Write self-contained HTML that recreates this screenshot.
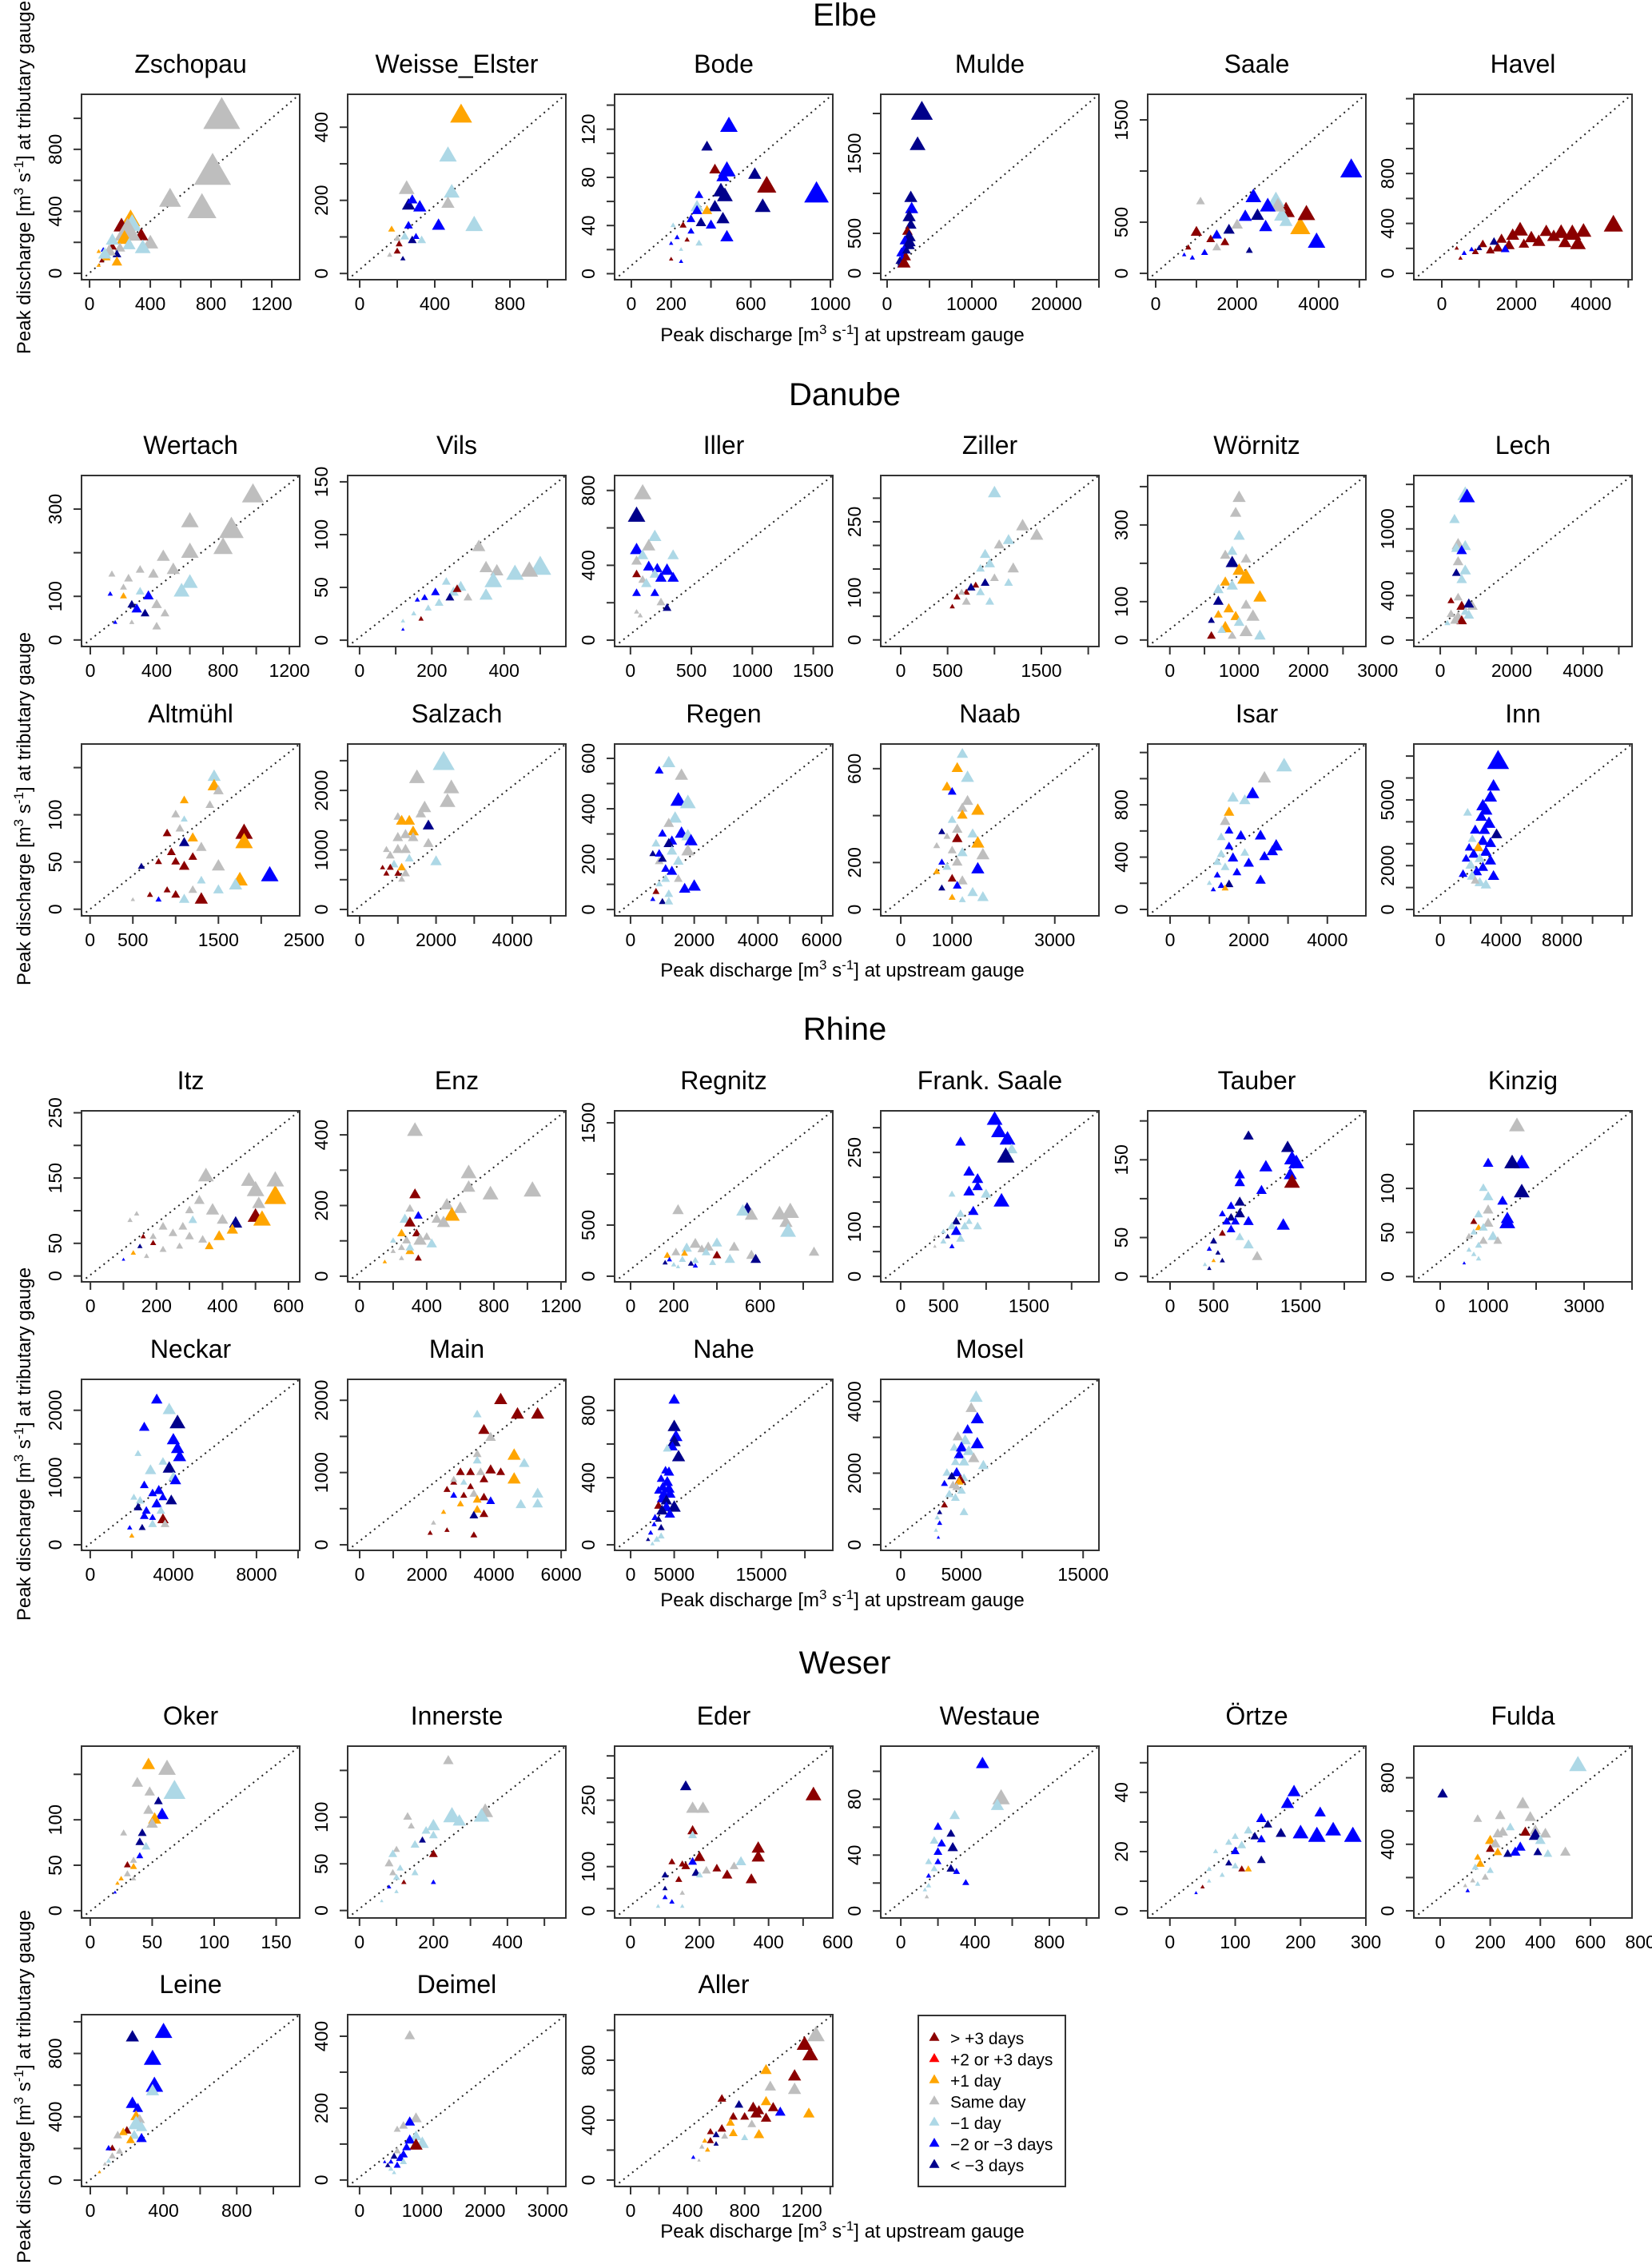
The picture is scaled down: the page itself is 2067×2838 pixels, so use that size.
<!DOCTYPE html>
<html><head><meta charset="utf-8"><title>Peak discharge tributary vs upstream</title>
<style>
html,body{margin:0;padding:0;background:#fff;}
svg{display:block;font-family:"Liberation Sans",Arial,sans-serif;}
</style></head>
<body>
<svg id="fig" xmlns="http://www.w3.org/2000/svg" width="2067" height="2838" viewBox="0 0 2067 2838">
<rect width="2067" height="2838" fill="#fff"/>
<text x="1057" y="32" font-size="40" text-anchor="middle">Elbe</text>
<text x="1057" y="507" font-size="40" text-anchor="middle">Danube</text>
<text x="1057" y="1301" font-size="40" text-anchor="middle">Rhine</text>
<text x="1057" y="2094" font-size="40" text-anchor="middle">Weser</text>
<g><text x="1054" y="427" font-size="24" text-anchor="middle">Peak discharge [m<tspan dy="-9" font-size="17">3</tspan><tspan dy="9"> s</tspan><tspan dy="-9" font-size="17">-1</tspan><tspan dy="9">] at upstream gauge</tspan></text></g>
<g><text x="1054" y="1222" font-size="24" text-anchor="middle">Peak discharge [m<tspan dy="-9" font-size="17">3</tspan><tspan dy="9"> s</tspan><tspan dy="-9" font-size="17">-1</tspan><tspan dy="9">] at upstream gauge</tspan></text></g>
<g><text x="1054" y="2010" font-size="24" text-anchor="middle">Peak discharge [m<tspan dy="-9" font-size="17">3</tspan><tspan dy="9"> s</tspan><tspan dy="-9" font-size="17">-1</tspan><tspan dy="9">] at upstream gauge</tspan></text></g>
<g><text x="1054" y="2800" font-size="24" text-anchor="middle">Peak discharge [m<tspan dy="-9" font-size="17">3</tspan><tspan dy="9"> s</tspan><tspan dy="-9" font-size="17">-1</tspan><tspan dy="9">] at upstream gauge</tspan></text></g>
<g transform="translate(38,222) rotate(-90)"><text x="0" y="0" font-size="24" text-anchor="middle">Peak discharge [m<tspan dy="-9" font-size="17">3</tspan><tspan dy="9"> s</tspan><tspan dy="-9" font-size="17">-1</tspan><tspan dy="9">] at tributary gauge</tspan></text></g>
<g transform="translate(38,1012) rotate(-90)"><text x="0" y="0" font-size="24" text-anchor="middle">Peak discharge [m<tspan dy="-9" font-size="17">3</tspan><tspan dy="9"> s</tspan><tspan dy="-9" font-size="17">-1</tspan><tspan dy="9">] at tributary gauge</tspan></text></g>
<g transform="translate(38,1807) rotate(-90)"><text x="0" y="0" font-size="24" text-anchor="middle">Peak discharge [m<tspan dy="-9" font-size="17">3</tspan><tspan dy="9"> s</tspan><tspan dy="-9" font-size="17">-1</tspan><tspan dy="9">] at tributary gauge</tspan></text></g>
<g transform="translate(38,2611) rotate(-90)"><text x="0" y="0" font-size="24" text-anchor="middle">Peak discharge [m<tspan dy="-9" font-size="17">3</tspan><tspan dy="9"> s</tspan><tspan dy="-9" font-size="17">-1</tspan><tspan dy="9">] at tributary gauge</tspan></text></g>
<g id="panels"></g>
<g id="legend"></g>
</svg>
<script>
const NS="http://www.w3.org/2000/svg";
const catColors=["#8B0000","#FF0000","#FFA500","#BEBEBE","#ADD8E6","#0000FF","#00008B"];
const catLabels=["> +3 days","+2 or +3 days","+1 day","Same day","\u22121 day","\u22122 or \u22123 days","< \u22123 days"];
const panelNames=["Zschopau","Weisse_Elster","Bode","Mulde","Saale","Havel","Wertach","Vils","Iller","Ziller","Wörnitz","Lech","Altmühl","Salzach","Regen","Naab","Isar","Inn","Itz","Enz","Regnitz","Frank. Saale","Tauber","Kinzig","Neckar","Main","Nahe","Mosel","Oker","Innerste","Eder","Westaue","Örtze","Fulda","Leine","Deimel","Aller"];
const panelRow=[0,0,0,0,0,0,1,1,1,1,1,1,2,2,2,2,2,2,3,3,3,3,3,3,4,4,4,4,5,5,5,5,5,5,6,6,6];
const panelCol=[0,1,2,3,4,5,0,1,2,3,4,5,0,1,2,3,4,5,0,1,2,3,4,5,0,1,2,3,0,1,2,3,4,5,0,1,2];
const xDomain=[[-53,1384],[-64,1098],[-84,1012],[-750,25000],[-196,5160],[-750,5100],[-53,1262],[-33,571],[-130,1660],[-213,2114],[-320,2830],[-740,5370],[-100,2450],[-315,5400],[-500,6350],[-390,3860],[-570,4980],[-1730,12590],[-27,634],[-71,1229],[-74,937],[-233,2320],[-257,2248],[-550,4000],[-420,10080],[-357,6140],[-1840,23200],[-1640,16300],[-7,169],[-32,558],[-46,586],[-108,1067],[-34,300],[-105,766],[-48,1144],[-190,3290],[-112,1418]];
const yDomain=[[-41,1155],[-17,490],[-5,149],[-80,2240],[-62,1750],[-51,1435],[-15,377],[-6,156],[-34,880],[-14,348],[-17,429],[-58,1480],[-7,175],[-107,2780],[-25,657],[-27,705],[-49,1265],[-290,7550],[-9,253],[-16,468],[-55,1617],[-11,334],[-7,213],[-6,188],[-83,2460],[-77,2290],[-33,985],[-155,4620],[-8,181],[-8,176],[-16,372],[-5,118],[-2.4,55.6],[-43,990],[-40,1045],[-18,460],[-43,1104]];
const xTickStep=[200,200,200,5000,1000,1000,200,100,500,500,500,1000,500,1000,1000,1000,1000,2000,100,200,200,500,500,1000,2000,1000,5000,5000,50,100,100,200,100,200,200,500,200];
const xTickLabels=[[0,400,800,1200],[0,400,800],[0,200,600,1000],[0,10000,20000],[0,2000,4000],[0,2000,4000],[0,400,800,1200],[0,200,400],[0,500,1000,1500],[0,500,1500],[0,1000,2000,3000],[0,2000,4000],[0,500,1500,2500],[0,2000,4000],[0,2000,4000,6000],[0,1000,3000],[0,2000,4000],[0,4000,8000],[0,200,400,600],[0,400,800,1200],[0,200,600],[0,500,1500],[0,500,1500],[0,1000,3000],[0,4000,8000],[0,2000,4000,6000],[0,5000,15000],[0,5000,15000],[0,50,100,150],[0,200,400],[0,200,400,600],[0,400,800],[0,100,200,300],[0,200,400,600,800],[0,400,800],[0,1000,2000,3000],[0,400,800,1200]];
const yTickStep=[200,100,20,500,500,200,100,50,200,50,100,200,50,500,100,200,200,1000,50,100,500,50,50,50,500,500,200,1000,50,50,50,20,10,200,200,100,200];
const yTickLabels=[[0,400,800],[0,200,400],[0,40,80,120],[0,500,1500],[0,500,1500],[0,400,800],[0,100,300],[0,50,100,150],[0,400,800],[0,100,250],[0,100,300],[0,400,1000],[0,50,100],[0,1000,2000],[0,200,400,600],[0,200,600],[0,400,800],[0,2000,5000],[0,50,150,250],[0,200,400],[0,500,1500],[0,100,250],[0,50,150],[0,50,100],[0,1000,2000],[0,1000,2000],[0,400,800],[0,2000,4000],[0,50,100],[0,50,100],[0,100,250],[0,40,80],[0,20,40],[0,400,800],[0,400,800],[0,200,400],[0,400,800]];
// points: [upstream peak, tributary peak, symbol size, timing category]
const zschopauPts=[[870,1000,4.2,3],[810,640,4.2,3],[740,410,3.3,3],[530,470,2.5,3],[400,190,1.8,3],[270,340,2.2,2],[280,310,2.2,4],[210,300,1.8,0],[340,240,1.6,0],[250,260,3,3],[350,160,1.8,4],[230,220,1.8,2],[260,180,1.5,4],[200,160,1.2,3],[150,170,1,0],[180,120,1,6],[180,70,1.2,2],[130,140,1.5,3],[110,100,1,2],[90,150,0.6,5],[60,140,0.5,2],[80,80,0.6,0],[60,50,0.5,2],[100,120,1.5,4],[150,210,1.5,4]];
const weisseElsterPts=[[540,430,2.5,2],[470,320,2,4],[250,230,1.8,3],[260,185,1.5,6],[280,200,1.2,5],[320,180,1.5,5],[490,220,1.8,4],[470,190,1.5,3],[420,130,1.5,5],[610,130,2,4],[260,130,1,5],[170,120,0.8,2],[210,80,0.8,0],[240,100,1,4],[280,90,1,6],[330,90,1,4],[200,60,0.8,0],[230,40,0.6,6],[200,95,0.8,3],[160,50,0.6,3],[300,100,0.8,5]];
const bodePts=[[490,122,2,5],[380,105,1.3,6],[420,86,1.3,0],[480,85,2,5],[460,80,1.5,5],[620,82,1.5,6],[680,72,2.2,0],[930,65,2.8,5],[450,68,1.8,6],[470,64,1.8,6],[340,65,1,5],[330,55,1.5,4],[420,55,1.5,6],[380,52,1.2,2],[330,52,1.2,5],[660,55,1.8,6],[460,45,1.5,6],[400,40,1.2,5],[350,42,1.2,6],[480,30,1.5,5],[260,40,0.8,0],[300,35,0.8,5],[210,40,0.6,4],[230,30,0.6,5],[280,28,0.6,0],[340,25,0.8,4],[250,20,0.5,4],[200,25,0.5,5],[200,12,0.5,0],[250,10,0.5,5],[300,45,1,5]];
const muldePts=[[4100,2000,2.5,6],[3600,1600,1.8,6],[2800,940,1.5,6],[2900,800,1.5,5],[2600,700,1.5,6],[2800,600,1.3,6],[2400,520,1.2,0],[2600,450,1.5,6],[2100,400,1.2,5],[2500,350,1.5,6],[2000,300,1,5],[1700,250,1.2,5],[2200,200,1.2,0],[1800,180,1,5],[1500,150,1,6],[1600,100,0.8,5],[2000,120,1.5,0],[2700,380,1.3,6],[2300,280,1,6]];
const saalePts=[[4800,1000,2.5,5],[3950,300,2,5],[3550,440,2.3,2],[3700,570,2,0],[3200,600,2,0],[3100,560,1.8,4],[2950,700,2,4],[3000,650,1.8,3],[2750,650,1.8,5],[2400,740,1.8,5],[3200,500,1.5,4],[2700,450,1.5,5],[2200,550,1.5,5],[2500,560,1.5,6],[2000,470,1.3,3],[1800,420,1.3,6],[1500,370,1.2,5],[1350,330,1,0],[1100,700,1,3],[1500,250,1,3],[1200,200,0.8,5],[900,150,0.6,5],[800,250,0.7,0],[2300,220,0.8,6],[1700,300,1,0],[1000,400,1.3,0],[700,180,0.5,5]];
const havelPts=[[4600,380,2.2,0],[3800,330,1.8,0],[3500,310,2,0],[3650,230,1.8,0],[3200,320,1.8,0],[3000,290,1.5,0],[2800,330,1.5,0],[2600,250,1.5,0],[2400,280,1.5,0],[2100,340,1.8,0],[1900,300,1.5,0],[1800,220,1.3,0],[1600,270,1.2,0],[1500,200,1.2,0],[1300,180,1,0],[1100,230,1,0],[900,170,0.8,0],[1000,200,0.7,6],[800,190,0.6,5],[600,160,0.6,5],[1400,250,1,6],[1700,190,1,5],[400,200,0.5,0],[500,120,0.5,0],[2200,230,1.2,0],[3300,240,1.5,0]];
const wertachPts=[[980,330,2.5,3],[600,270,2,3],[850,250,2.8,3],[800,210,2.2,3],[600,200,2,3],[440,190,1.5,3],[500,160,1.5,3],[550,110,1.8,4],[600,130,1.8,4],[300,160,1,3],[230,140,1,3],[130,150,0.8,3],[380,150,1.2,3],[200,120,0.8,3],[300,110,1,4],[350,100,1.2,5],[120,105,0.6,5],[200,100,0.8,2],[250,80,1,6],[280,70,1.2,5],[400,80,1.2,3],[450,60,1,3],[330,60,1,6],[400,30,1,3],[250,40,0.6,3],[150,40,0.5,5]];
const vilsPts=[[500,68,2.5,4],[470,65,2,3],[430,62,2,4],[380,65,1.5,3],[370,55,2,4],[350,42,1.5,4],[350,68,1.5,3],[330,88,1.5,3],[280,50,1.3,4],[260,45,1.2,4],[270,48,1,0],[250,40,1,6],[210,45,1,5],[220,35,1,4],[180,40,0.8,5],[190,30,0.8,4],[160,38,0.6,5],[150,25,0.6,4],[170,20,0.6,0],[120,18,0.5,4],[300,40,1,3],[240,55,1,4],[120,10,0.4,5]];
const illerPts=[[100,780,2,3],[50,660,2,6],[200,550,1.5,4],[150,500,1.5,3],[50,480,1.5,5],[100,450,1.3,4],[350,450,1.3,4],[50,420,1.2,3],[150,390,1.3,5],[220,380,1.2,5],[300,370,1.5,5],[200,350,1.2,4],[50,350,1,0],[100,320,1,3],[250,330,1.3,5],[350,330,1.3,5],[130,300,1.2,4],[50,250,1,5],[200,250,1,5],[250,200,1,3],[300,170,1,6],[50,150,0.6,3],[80,130,0.6,3]];
const zillerPts=[[1000,310,1.5,4],[1300,240,1.5,3],[1150,210,1.3,4],[1450,220,1.5,3],[1050,200,1.2,3],[900,180,1.2,4],[950,160,1.2,4],[850,150,1,4],[1000,130,1,3],[900,120,1,6],[1200,150,1.3,3],[800,115,0.8,0],[750,110,1,6],[700,100,0.8,0],[850,100,1,4],[600,90,0.8,0],[550,70,0.6,0],[950,80,1,4],[700,80,1,3],[1150,120,1,4],[650,100,0.8,3]];
const woernitzPts=[[1000,370,1.5,3],[950,330,1.3,3],[1000,270,1.3,4],[900,230,1.2,4],[800,220,1.2,3],[900,200,1.5,6],[1100,210,1.2,3],[1000,180,1.5,2],[1100,160,2,2],[800,150,1.2,2],[900,140,1.3,4],[700,130,1.2,4],[1300,110,1.5,2],[700,100,1.2,6],[850,80,1.2,2],[950,60,1.2,2],[1200,60,1.5,3],[600,50,0.8,6],[800,30,1.5,2],[1100,20,1.5,3],[750,25,1,4],[600,10,1,0],[900,10,1,3],[1300,10,1.3,4],[1000,45,1.2,4],[700,65,1,2],[1100,90,1.2,3]];
const lechPts=[[700,1300,1.8,4],[750,1280,1.8,5],[400,1080,1.2,4],[500,850,1.5,3],[700,840,1.3,4],[450,820,1.2,4],[600,800,1.2,5],[500,700,1.2,3],[700,620,1.3,4],[450,600,1,6],[600,540,1.2,4],[500,380,1,3],[300,350,0.8,0],[600,300,1.2,0],[900,300,1.2,3],[800,320,1.2,6],[300,230,1,3],[500,200,1.3,3],[800,220,1.2,4],[600,170,1.2,0],[400,170,1,3],[200,150,0.7,4],[700,250,1,4]];
const altmuehlPts=[[1450,140,1.5,4],[1450,130,1.5,2],[1500,125,1.2,3],[1100,115,1,2],[1400,110,1,3],[1000,100,1,3],[1100,95,0.8,4],[1050,85,1,3],[900,80,1,0],[1800,80,2,0],[1800,70,2,2],[1200,75,1.2,2],[1100,70,1.2,6],[1300,65,1.2,3],[950,60,1,0],[1200,55,1,0],[1100,45,1.2,0],[800,50,0.8,0],[1000,50,1,0],[600,45,0.8,6],[1500,45,1.5,3],[2100,35,2,5],[1750,30,1.8,2],[1700,25,1.5,4],[1300,30,1,4],[1200,20,1,3],[1000,15,1,0],[1100,10,1.2,4],[1300,10,1.5,0],[900,20,0.8,0],[800,10,0.7,5],[700,15,0.7,0],[1500,20,1.2,4],[500,10,0.5,3]];
const salzachPts=[[2200,2450,2.5,4],[1500,2200,1.8,3],[2400,2030,1.8,3],[2300,1800,1.8,3],[1700,1700,1.5,3],[1600,1600,1.2,3],[1000,1550,1,3],[1100,1480,1.3,2],[1300,1480,1.3,2],[1800,1400,1.3,6],[1400,1300,1.3,2],[1200,1250,1.2,3],[1000,1200,1.2,3],[1400,1200,1.2,3],[1800,1100,1.2,3],[700,1000,0.8,3],[1000,1000,1.2,3],[1200,1000,1.2,3],[800,900,1,3],[1300,850,1,4],[2000,800,1.3,4],[900,750,1,4],[800,700,0.8,0],[600,700,0.6,0],[1100,700,1,2],[700,600,0.7,0],[1000,600,0.8,0],[1200,600,1,3],[1100,500,0.8,3]];
const regenPts=[[1200,580,1.5,4],[900,550,1,5],[1600,530,1.5,3],[1500,430,1.8,5],[1800,420,1.8,4],[1400,360,1.5,4],[1200,340,1.2,3],[1600,300,1.5,5],[1000,300,1,5],[1800,290,1.5,4],[1300,270,1.2,5],[1900,270,1.5,5],[800,260,1,4],[1200,260,1.2,6],[700,220,0.8,6],[900,220,1,5],[1300,230,1.2,4],[1800,230,1.5,3],[900,190,1,3],[1500,190,1.2,4],[1100,160,1,5],[1300,150,1.2,5],[1500,120,1,3],[2000,90,1.5,5],[1700,80,1.3,5],[1100,120,1,4],[900,100,0.8,4],[800,70,0.8,0],[1200,60,1,4],[1000,30,0.8,6],[1200,30,1,4],[700,40,0.6,5],[1000,200,1,6]];
const naabPts=[[1100,720,1.2,6],[1200,660,1.3,4],[1100,600,1.3,2],[1300,560,1.5,4],[900,520,1.2,2],[1000,500,1,5],[1300,460,1.3,3],[1200,430,1.2,3],[1500,420,1.5,2],[1200,400,1.2,2],[1000,380,1,4],[1100,340,1.2,3],[800,330,0.8,6],[900,310,0.8,3],[1100,300,1.2,0],[1400,320,1.2,4],[1500,280,1.5,2],[700,270,0.8,3],[1000,250,1,3],[1200,240,1.2,4],[1600,230,1.5,3],[800,200,0.8,5],[1100,200,1.2,3],[900,180,1,4],[1500,170,1.5,5],[700,160,0.8,2],[1000,130,1,0],[1200,120,1.2,3],[1100,100,1,5],[800,90,0.8,6],[1400,70,1.2,4],[1600,50,1.3,4],[1000,50,0.8,2],[1200,40,0.8,4]];
const isarPts=[[2900,1090,1.8,4],[2400,1000,1.5,3],[2100,880,1.5,5],[1900,830,1.3,4],[1600,850,1.3,4],[1500,740,1.2,2],[1400,670,1.2,3],[1500,600,1,5],[2300,560,1.3,5],[1800,560,1.2,5],[1300,550,1,4],[2700,480,1.5,5],[2600,440,1.3,5],[2400,400,1.2,5],[1500,480,1,5],[1900,430,1,4],[1300,420,1,4],[1600,390,1.2,5],[2000,350,1.2,5],[1200,360,1,4],[1400,320,1,4],[1700,280,1,5],[1200,260,0.8,5],[2300,220,1.2,5],[1500,190,1,6],[1300,180,0.8,5],[1400,160,0.8,2],[1000,200,0.6,4],[1100,150,0.6,5]];
const innPts=[[3800,6700,2.5,5],[3500,5600,1.5,5],[3300,5100,1.5,5],[2800,4700,1.5,5],[1800,4400,1,4],[3000,4500,1.5,5],[2700,4200,1.3,5],[3200,3900,1.5,5],[2900,3600,1.3,5],[3700,3400,1.3,6],[2300,3600,1.2,5],[2100,3200,1,4],[2800,3100,1.3,5],[3300,3000,1.3,5],[2500,2800,1.2,2],[1900,2800,1,5],[3000,2600,1.3,5],[2200,2500,1.2,5],[2600,2300,1.2,4],[1700,2300,1,5],[3300,2200,1.3,5],[2000,2000,1.2,4],[2800,1900,1.2,5],[2400,1700,1.2,5],[3500,1500,1.3,5],[2100,1500,1.2,4],[2600,1200,1.2,4],[3000,1100,1.2,4],[1500,1600,1,5],[2300,1300,1,3]];
const itzPts=[[560,120,2.5,2],[350,152,1.8,3],[480,145,1.8,3],[560,145,2,3],[500,130,2,3],[510,110,1.5,3],[500,90,1.8,0],[520,85,2,2],[440,80,1.5,6],[330,115,1.2,3],[300,100,1,3],[370,100,1.5,3],[310,85,1,4],[400,85,1.3,3],[280,75,1,3],[220,75,1,3],[250,65,1,3],[190,60,0.8,3],[300,60,1,3],[340,55,1,3],[390,60,1.3,2],[430,70,1.3,2],[360,45,1,2],[270,45,0.8,3],[150,45,0.6,6],[160,60,0.6,0],[120,85,0.6,3],[140,95,0.6,3],[220,40,0.8,3],[130,35,0.6,2],[100,25,0.4,5],[170,30,0.6,3],[190,50,0.7,0]];
const enzPts=[[330,410,1.8,3],[650,290,1.8,3],[1030,240,2,3],[780,230,1.8,3],[650,250,1.5,3],[330,230,1.3,0],[520,200,1.5,3],[600,190,1.5,3],[550,170,1.8,2],[460,160,1.2,3],[300,190,1,3],[270,160,1.2,4],[350,170,1,5],[500,150,1.5,3],[300,150,1.3,0],[250,120,1,2],[340,120,1,0],[360,100,1.5,3],[430,90,1.2,4],[280,100,1,3],[200,100,0.7,4],[250,80,0.8,3],[200,70,0.6,3],[300,70,1,2],[350,50,0.8,0],[250,50,0.6,3],[150,40,0.5,2],[400,110,1,3],[300,80,1,4]];
const regnitzPts=[[740,620,2,3],[690,600,1.8,3],[720,520,1.5,3],[730,430,1.8,4],[540,650,1.5,6],[520,630,1.5,4],[560,590,1.5,3],[220,640,1.3,3],[300,310,1.3,3],[360,280,1.2,3],[400,320,1.2,4],[480,280,1.2,3],[260,270,1.2,4],[330,260,1,3],[210,230,1,3],[350,230,1,4],[400,200,1,0],[560,200,1.2,3],[460,160,1.2,4],[580,160,1.2,6],[850,230,1.2,3],[170,200,0.8,2],[250,220,0.8,2],[240,160,0.8,4],[160,130,0.6,6],[200,110,0.6,4],[300,150,0.8,4],[280,120,0.7,6],[380,130,0.8,4],[220,90,0.5,4],[300,100,0.6,5],[180,160,0.6,5]];
const frankSaalePts=[[1100,315,1.8,5],[1150,290,1.8,5],[1250,275,1.8,5],[1300,255,1.3,4],[1230,240,2,6],[700,270,1.2,5],[800,210,1.3,5],[900,195,1.3,5],[900,180,1.2,5],[1000,165,1.2,4],[1180,150,1.8,5],[800,170,1.3,5],[600,165,0.8,4],[850,130,1.2,5],[700,125,1,4],[650,110,1,6],[600,100,1,4],[750,100,1,4],[900,100,1,4],[500,90,0.6,4],[650,90,1.2,5],[700,75,1,4],[550,80,0.6,6],[600,60,0.6,5],[400,80,0.4,3],[400,60,0.4,3],[500,70,0.7,4],[800,110,0.8,4]];
const tauberPts=[[900,180,1.2,6],[1350,165,1.5,6],[1400,150,1.8,5],[1450,145,1.8,5],[1100,140,1.5,5],[1380,130,1.5,5],[1400,120,1.8,0],[800,130,1.2,5],[800,120,1.2,5],[1050,110,1.2,5],[800,95,1.2,6],[700,90,1,5],[800,80,1.2,6],[700,75,1,6],[600,80,0.8,5],[650,70,1,5],[750,70,1,5],[900,70,1.2,5],[1300,65,1.5,5],[700,60,1,5],[800,50,1,4],[600,55,0.8,0],[900,40,1.2,4],[500,45,0.8,6],[450,35,0.6,5],[550,30,0.6,6],[600,20,0.6,6],[500,20,0.5,2],[1000,25,1.2,3],[400,15,0.5,4],[450,10,0.5,6]];
const kinzigPts=[[1600,170,1.8,3],[1700,128,1.8,5],[1500,128,1.8,6],[1000,128,1.2,5],[1700,95,1.8,6],[900,100,1,4],[1000,90,1.2,4],[1300,85,1.2,5],[1000,75,1.2,3],[800,70,1,4],[1000,60,1.2,3],[700,62,0.8,0],[800,55,0.8,2],[1400,60,1.8,5],[1400,65,1.5,5],[900,55,1,4],[700,50,0.8,4],[1100,45,1.2,4],[600,45,0.8,3],[900,40,1,3],[800,35,0.8,4],[600,30,0.6,4],[700,25,0.6,4],[800,20,0.6,4],[500,15,0.4,5],[1200,40,1,3]];
const neckarPts=[[3200,2150,1.3,5],[3800,2000,1.5,4],[4200,1800,1.8,6],[2600,1740,1.2,5],[4000,1550,1.5,5],[4200,1420,1.5,5],[2300,1350,0.8,4],[4300,1300,1.5,5],[3500,1230,1,4],[3800,1130,1.5,6],[2900,1100,1.3,4],[4000,1000,1.2,4],[4100,950,1.3,5],[2600,880,1,5],[3300,800,1.2,5],[3000,760,1,5],[2100,700,0.8,4],[3500,700,1,5],[2400,650,1,4],[3900,650,1.3,6],[3200,600,1.2,5],[2300,550,1,6],[2700,500,1,5],[3400,500,1,4],[2600,420,1,5],[3500,370,1.3,0],[3000,300,1,4],[2500,250,0.8,6],[1900,250,0.6,5],[3600,300,1,3],[2000,130,0.6,2],[3000,400,0.8,5]];
const mainPts=[[4200,2000,1.5,0],[4700,1800,1.5,0],[5300,1800,1.5,0],[3500,1800,1,4],[3700,1580,1.3,0],[3900,1480,1.2,3],[3500,1250,1,3],[4600,1230,1.5,2],[3500,1160,1,4],[4900,1120,1.2,4],[3000,1000,1,0],[3300,1000,1,0],[3600,1000,1,3],[3900,1030,1.2,0],[4200,1000,1,0],[4600,900,1.5,2],[3700,900,1,0],[2800,860,0.8,0],[3100,860,0.8,4],[3300,800,0.8,0],[2600,760,0.8,0],[3400,700,1,3],[2800,680,0.8,5],[3100,680,0.8,0],[3700,650,1,0],[3500,620,1,2],[3900,600,1,5],[5300,700,1.3,4],[4800,550,1.2,4],[5300,560,1.2,4],[3000,560,0.8,2],[3500,480,1,2],[2500,450,0.6,2],[3700,420,1,0],[3400,400,1,6],[2200,300,0.6,3],[2600,200,0.6,0],[2100,160,0.6,0],[3400,130,0.8,0],[2800,900,0.8,3]];
const nahePts=[[5000,860,1.3,5],[5000,700,1.5,6],[5200,640,1.5,5],[5000,610,1.5,6],[4800,580,1.2,5],[4200,570,1,4],[5500,520,1.5,6],[4000,440,1,5],[4400,430,1.2,5],[3500,390,1,5],[4200,370,1.3,5],[3700,340,1.2,5],[4400,330,1.3,5],[3200,320,1,5],[3800,300,1.2,5],[4500,300,1.3,5],[3600,270,1.2,5],[4100,260,1.3,6],[3200,230,1,0],[4100,220,1.3,5],[5000,220,1.5,6],[3600,200,1.3,6],[2800,160,0.8,5],[3200,150,0.8,6],[4500,180,1.2,5],[3500,100,0.8,6],[2700,120,0.6,5],[2300,70,0.6,5],[3500,50,0.8,4],[3000,30,0.8,4],[2000,30,0.5,6],[2500,5,0.5,4]];
const moselPts=[[6200,4100,1.5,4],[5800,3800,1.3,3],[6300,3500,1.5,5],[5500,3200,1.2,5],[4700,3000,1.2,3],[5300,2900,1.3,4],[6300,2800,1.5,5],[4400,2700,1,4],[5000,2700,1.3,5],[5600,2600,1.3,4],[4800,2500,1.2,5],[6000,2400,1.3,3],[4500,2300,1,4],[5200,2300,1.2,4],[6800,2200,1.2,4],[3800,2000,1,4],[4600,2000,1.2,5],[4200,1900,1,6],[5200,1850,1,4],[4900,1800,1.2,0],[4800,1750,1,2],[3600,1700,0.8,5],[4300,1650,1,3],[4600,1600,1,3],[5000,1500,1,4],[4000,1400,1,4],[4500,1300,1,4],[3600,1100,0.8,0],[3200,900,0.6,6],[3000,750,0.6,4],[3200,600,0.6,5],[5200,900,1,4],[2900,400,0.5,4],[3100,200,0.4,5]];
const okerPts=[[47,160,1.5,2],[62,155,2,3],[38,140,1.3,3],[68,130,2.5,4],[48,130,1.2,3],[55,120,1,6],[47,110,1.2,3],[58,105,1.5,5],[52,100,1.5,2],[50,95,1.3,3],[27,85,0.8,3],[42,85,1,6],[40,75,1,6],[45,70,1,4],[40,60,0.8,5],[35,55,0.8,3],[30,50,0.8,0],[35,48,0.8,2],[30,40,0.8,3],[25,35,0.6,2],[22,30,0.5,2],[35,35,0.6,3],[20,20,0.4,5]];
const innerstePts=[[240,160,1.2,3],[340,105,1.8,3],[330,100,1.8,4],[250,100,2,4],[270,95,1.5,4],[200,90,1.5,4],[130,100,1,3],[140,90,0.8,3],[180,85,1,4],[200,80,1,4],[170,75,0.8,6],[150,70,1,4],[100,65,0.8,3],[90,60,1,4],[200,60,1,0],[80,50,1,3],[110,45,0.8,4],[90,40,0.8,3],[100,35,0.8,4],[150,40,0.8,4],[120,30,0.6,0],[200,30,0.6,5],[100,20,0.5,4],[80,25,0.5,5],[60,10,0.4,4]];
const ederPts=[[160,280,1.3,6],[530,260,1.8,0],[210,230,1.5,3],[180,230,1.5,3],[180,180,1.2,0],[180,170,1,4],[370,140,1.5,0],[370,120,1.5,0],[200,120,1.3,0],[320,110,1.2,4],[300,100,1,3],[120,110,0.8,0],[150,105,0.8,0],[160,100,1,0],[180,110,1,5],[220,90,1,3],[250,95,1,0],[190,85,1,6],[280,80,1.2,0],[350,70,1.3,0],[100,80,0.8,6],[200,80,0.8,4],[140,70,0.8,0],[100,50,0.6,6],[150,40,0.6,3],[100,30,0.6,5],[120,20,0.6,5],[80,10,0.5,4],[150,10,0.5,4]];
const westauePts=[[440,105,1.5,5],[540,80,2,3],[520,75,1.5,4],[290,68,1.2,4],[200,60,1,5],[270,55,1,6],[180,50,1,4],[220,48,1,5],[280,45,1.2,6],[200,42,1,5],[150,35,0.8,4],[200,35,0.8,5],[270,30,1,6],[300,28,0.8,5],[180,30,0.8,4],[150,25,0.6,5],[350,20,0.8,5],[150,18,0.6,4],[130,15,0.5,4],[140,10,0.5,3]];
const oertzePts=[[190,40,1.5,5],[180,36,1.5,5],[230,33,1.3,5],[140,31,1.2,5],[150,29,1,6],[250,27,1.8,5],[200,26,1.8,5],[225,25,2,5],[280,25,2,5],[170,26,1.2,6],[120,27,1,4],[100,25,0.8,4],[130,25,1,6],[140,24,1,5],[90,23,0.8,4],[110,22,1,4],[100,20,1,5],[70,20,0.6,4],[140,17,1,6],[100,15,0.8,4],[90,16,0.8,6],[110,14,0.8,0],[120,14,0.8,2],[60,14,0.6,4],[80,12,0.6,4],[50,8,0.5,0],[40,6,0.4,5],[60,10,0.5,4]];
const fuldaPts=[[550,870,2,4],[10,700,1.2,6],[330,640,1.5,3],[360,560,1.3,3],[240,570,1.2,3],[150,550,1,3],[250,470,1.2,3],[380,480,1.3,3],[280,500,1,4],[230,460,1.2,3],[380,450,1.5,6],[340,470,1.2,0],[420,460,1.3,3],[400,420,1.2,4],[200,420,1.2,2],[220,400,1.2,3],[320,380,1.2,5],[200,370,1,0],[270,340,1,6],[390,350,1,6],[430,340,1,4],[500,350,1.2,3],[300,350,1.2,5],[150,320,0.8,2],[160,280,1,2],[140,260,0.8,4],[200,240,0.8,4],[180,200,0.8,3],[130,180,0.6,3],[150,160,0.6,4],[100,150,0.5,3],[110,120,0.5,5],[230,350,1,2]];
const leinePts=[[400,930,2,5],[230,900,1.5,6],[340,760,2,5],[350,590,2,5],[340,560,1.5,4],[230,480,1.5,5],[260,450,1.2,5],[250,400,1.3,2],[270,380,1.2,3],[250,350,1.8,4],[280,330,1.3,4],[200,310,1,0],[180,300,1,2],[150,280,1,3],[240,280,1.2,4],[280,260,1.2,5],[220,250,1,2],[120,200,0.8,0],[160,180,0.8,3],[100,200,0.7,5],[120,150,0.8,3],[100,120,0.6,4],[80,100,0.5,3],[50,50,0.4,2]];
const deimelPts=[[800,400,1.2,3],[900,170,1.3,3],[800,160,1.2,5],[700,150,1,3],[600,140,0.8,3],[900,120,1.3,4],[800,110,1.2,5],[1000,100,1.5,4],[900,95,1.5,0],[750,90,1,5],[600,80,0.8,3],[700,70,1,5],[550,65,0.8,6],[650,60,1,5],[500,50,0.6,5],[700,50,0.8,4],[450,40,0.6,6],[600,40,0.8,5],[500,30,0.6,4],[400,50,0.4,5],[550,20,0.5,4]];
const allerPts=[[1300,960,2,3],[1220,900,1.8,0],[1260,830,1.8,0],[1150,690,1.5,0],[950,730,1.3,2],[1150,600,1.5,3],[980,620,1.3,3],[950,520,1.2,2],[640,540,1,0],[760,500,1,6],[860,480,1.3,0],[880,440,1.3,0],[900,460,1.2,0],[1050,450,1.2,5],[1000,480,1.2,0],[1250,440,1.3,2],[800,420,1,0],[720,420,1,0],[950,410,1.2,0],[700,380,1,2],[850,370,1,3],[640,340,1,0],[560,320,0.8,0],[720,310,1,2],[900,300,1.2,2],[600,300,0.8,6],[660,290,0.8,3],[800,280,0.8,4],[520,260,0.6,2],[600,240,0.6,6],[500,220,0.6,3],[540,200,0.6,2],[440,150,0.5,5],[480,130,0.4,3],[560,260,0.8,0]];
const panelPoints=[zschopauPts,weisseElsterPts,bodePts,muldePts,saalePts,havelPts,wertachPts,vilsPts,illerPts,zillerPts,woernitzPts,lechPts,altmuehlPts,salzachPts,regenPts,naabPts,isarPts,innPts,itzPts,enzPts,regnitzPts,frankSaalePts,tauberPts,kinzigPts,neckarPts,mainPts,nahePts,moselPts,okerPts,innerstePts,ederPts,westauePts,oertzePts,fuldaPts,leinePts,deimelPts,allerPts];

// layout
const colLeft=[102,435,769,1102,1436,1769];
const boxW=273;
const rowTop=[118,595,931,1390,1726,2185,2521];
const rowBot=[350,809,1146,1604,1940,2400,2736];

function mk(tag,attrs,parent){const el=document.createElementNS(NS,tag);for(const k in attrs)el.setAttribute(k,attrs[k]);if(parent)parent.appendChild(el);return el;}
function slug(s){return s.toLowerCase().normalize("NFD").replace(/[\u0300-\u036f]/g,"").replace(/[^a-z0-9]+/g,"-").replace(/^-|-$/g,"");}
function fmt(v){return String(v);}

const root=document.getElementById("panels");
panelNames.forEach((name,i)=>{
  const L=colLeft[panelCol[i]],R=L+boxW,T=rowTop[panelRow[i]],B=rowBot[panelRow[i]];
  const xd=xDomain[i],yd=yDomain[i];
  const sx=v=>L+(v-xd[0])/(xd[1]-xd[0])*(R-L);
  const sy=v=>B-(v-yd[0])/(yd[1]-yd[0])*(B-T);
  const g=mk("g",{},root);
  
  
  const title=mk("text",{x:(L+R)/2,y:T-27,"font-size":32,"text-anchor":"middle"},g);
  title.textContent=name;
  
  
  const cid="clip"+i;
  const cp=mk("clipPath",{id:cid},g);
  mk("rect",{x:L,y:T,width:R-L,height:B-T},cp);
  // diagonal (corner to corner of plot region)
  const diag=mk("line",{x1:L,y1:B,x2:R,y2:T,stroke:"#222","stroke-width":2,"stroke-dasharray":"2,5"},g);
  
  
  const pg=mk("g",{"clip-path":"url(#"+cid+")"},g);
  
  
  panelPoints[i].forEach(p=>{
    const cx=sx(p[0]),cy=sy(p[1]),side=11*p[2],h=side*0.866;
    const pts=[[cx,cy-2*h/3],[cx-side/2,cy+h/3],[cx+side/2,cy+h/3]].map(a=>a[0].toFixed(1)+","+a[1].toFixed(1)).join(" ");
    const tri=mk("polygon",{points:pts,fill:catColors[p[3]]},pg);
    
    
  });
  const box=mk("rect",{x:L,y:T,width:R-L,height:B-T,fill:"none",stroke:"#333","stroke-width":2},g);
  
  
  const xa=mk("g",{},g);
  
  
  const xs=xTickStep[i];
  for(let v=0;v<=xd[1]+1e-9;v+=xs){
    const x=sx(v); if(x<L-1||x>R+1)continue;
    mk("line",{x1:x,y1:B,x2:x,y2:B+10,stroke:"#333","stroke-width":2},xa);
  }
  xTickLabels[i].forEach(v=>{
    const t=mk("text",{x:sx(v),y:B+38,"font-size":23,"text-anchor":"middle"},xa);
    t.textContent=fmt(v);
    
    
  });
  const ya=mk("g",{},g);
  
  
  const ys=yTickStep[i];
  for(let v=0;v<=yd[1]+1e-9;v+=ys){
    const y=sy(v); if(y<T-1||y>B+1)continue;
    mk("line",{x1:L,y1:y,x2:L-10,y2:y,stroke:"#333","stroke-width":2},ya);
  }
  yTickLabels[i].forEach(v=>{
    const y=sy(v);
    const t=mk("text",{x:0,y:0,"font-size":23,"text-anchor":"middle",transform:"translate("+(L-25)+","+y+") rotate(-90)"},ya);
    t.textContent=fmt(v);
    
    
  });
});

const lg=document.getElementById("legend");
const lb=mk("rect",{x:1149,y:2522,width:184,height:214,fill:"#fff",stroke:"#333","stroke-width":2},lg);


catLabels.forEach((lab,k)=>{
  const cy=2550+k*26.5;
  const e=mk("g",{},lg);
  
  
  const s=13,h=s*0.866;
  mk("polygon",{points:[[1169,cy-2*h/3],[1169-s/2,cy+h/3],[1169+s/2,cy+h/3]].map(a=>a.join(",")).join(" "),fill:catColors[k]},e);
  const t=mk("text",{x:1189,y:cy+8,"font-size":21},e);
  t.textContent=lab;
});
</script>
</body></html>
